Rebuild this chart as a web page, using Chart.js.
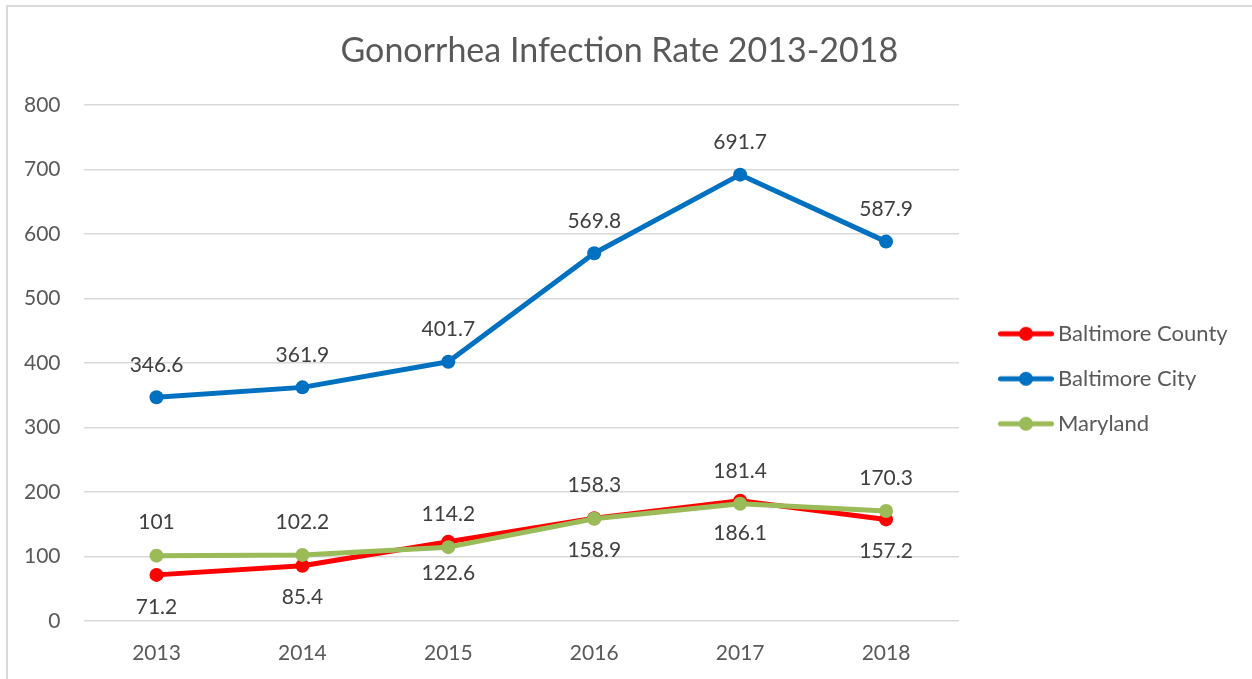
<!DOCTYPE html>
<html>
<head>
<meta charset="utf-8">
<script src="https://cdn.jsdelivr.net/npm/chart.js@4.4.1/dist/chart.umd.min.js"></script>
<style>
  html, body { margin: 0; padding: 0; background: #ffffff; }
  #wrap { position: relative; width: 1252px; height: 679px; overflow: hidden; }
  #frame { position: absolute; left: 6px; top: 5px; width: 1300px; height: 800px;
           border-left: 2px solid #d9d9d9; border-top: 2px solid #d9d9d9; pointer-events: none; }
  canvas { position: absolute; left: 0; top: 0; }
</style>
</head>
<body>
<div id="wrap">
  <canvas id="chart" width="1252" height="679"></canvas>
  <div id="frame"></div>
</div>
<script>
// Gonorrhea rates per 100,000, 2013-2018
const years = ['2013', '2014', '2015', '2016', '2017', '2018'];
const baltimoreCounty = [71.2, 85.4, 122.6, 158.9, 186.1, 157.2];
const baltimoreCity = [346.6, 361.9, 401.7, 569.8, 691.7, 587.9];
const maryland = [101, 102.2, 114.2, 158.3, 181.4, 170.3];
const yTickValues = [0, 100, 200, 300, 400, 500, 600, 700, 800];

const FONT = 'Lato, Carlito, Calibri, sans-serif';
const TEXT_GREY = '#595959';
const LABEL_GREY = '#404040';
const GRID_GREY = '#d9d9d9';

const LEGEND_FONT_SIZE = 22;
const LEGEND_PAD = 23;
const LEGEND_BOX_W = 65;

// Legend swatch: a short line with a round marker on it
function legendSwatch(color) {
  const c = document.createElement('canvas');
  c.width = 79; c.height = 18;
  const g = c.getContext('2d');
  g.strokeStyle = color;
  g.lineWidth = 5;
  g.lineCap = 'round';
  g.beginPath();
  g.moveTo(25.5, 9);
  g.lineTo(76.5, 9);
  g.stroke();
  g.fillStyle = color;
  g.beginPath();
  g.arc(51, 9, 7, 0, Math.PI * 2);
  g.fill();
  return c;
}

// Value labels drawn beside each point
const valueLabels = {
  id: 'valueLabels',
  afterDatasetsDraw(chart) {
    const ctx = chart.ctx;
    ctx.save();
    ctx.font = '21px ' + FONT;
    ctx.fillStyle = LABEL_GREY;
    ctx.textAlign = 'center';
    ctx.textBaseline = 'middle';
    chart.data.datasets.forEach((ds, i) => {
      const meta = chart.getDatasetMeta(i);
      meta.data.forEach((pt, j) => {
        ctx.fillText(String(ds.data[j]), pt.x, pt.y + ds.labelOffset);
      });
    });
    ctx.restore();
  }
};

// Reserve room on the right so the plot ends where the legend column begins
const measure = document.createElement('canvas').getContext('2d');
measure.font = LEGEND_FONT_SIZE + 'px ' + FONT;
const legendTextW = Math.max(...['Baltimore County', 'Baltimore City', 'Maryland'].map(t => measure.measureText(t).width));
const legendW = LEGEND_PAD + LEGEND_BOX_W + LEGEND_FONT_SIZE / 2 + legendTextW + 10;
const padRight = Math.max(0, 1252 - 959 - legendW);

const swatches = {};

new Chart(document.getElementById('chart'), {
  type: 'line',
  data: {
    labels: years,
    datasets: [
      { label: 'Baltimore County', data: baltimoreCounty, borderColor: '#ff0000', backgroundColor: '#ff0000',
        pointBackgroundColor: '#ff0000', order: 2, labelOffset: 32 },
      { label: 'Baltimore City', data: baltimoreCity, borderColor: '#0070c0', backgroundColor: '#0070c0',
        pointBackgroundColor: '#0070c0', order: 1, labelOffset: -32 },
      { label: 'Maryland', data: maryland, borderColor: '#9bbb59', backgroundColor: '#9bbb59',
        pointBackgroundColor: '#9bbb59', order: 0, labelOffset: -33 }
    ]
  },
  options: {
    responsive: false,
    animation: false,
    layout: { padding: { left: 1, right: padRight, top: 10, bottom: -7 } },
    elements: {
      line: { borderWidth: 5, tension: 0, borderCapStyle: 'round', borderJoinStyle: 'round' },
      point: { radius: 7, borderWidth: 0, hoverRadius: 7 }
    },
    scales: {
      x: {
        offset: true,
        grid: { display: false, drawTicks: false },
        border: { display: false },
        ticks: { color: TEXT_GREY, font: { family: FONT, size: 21 }, padding: 20 }
      },
      y: {
        min: 0,
        max: 800,
        afterBuildTicks(scale) { scale.ticks = yTickValues.map(v => ({ value: v })); },
        grid: { color: GRID_GREY, lineWidth: 1.5, drawTicks: false },
        border: { display: false },
        ticks: { color: TEXT_GREY, font: { family: FONT, size: 21 }, padding: 23 }
      }
    },
    plugins: {
      tooltip: { enabled: false },
      title: {
        display: true,
        text: 'Gonorrhea Infection Rate 2013-2018',
        color: TEXT_GREY,
        font: { family: FONT, size: 34, weight: 'normal' },
        padding: { top: 21, bottom: 33 }
      },
      legend: {
        position: 'right',
        fullSize: false,
        title: { display: true, text: '', font: { size: 10 }, padding: { top: 20, bottom: 0 } },
        labels: {
          usePointStyle: true,
          pointStyleWidth: LEGEND_BOX_W,
          padding: LEGEND_PAD,
          color: TEXT_GREY,
          font: { family: FONT, size: LEGEND_FONT_SIZE },
          generateLabels(chart) {
            const items = Chart.defaults.plugins.legend.labels.generateLabels(chart);
            items.sort((a, b) => a.datasetIndex - b.datasetIndex);
            items.forEach(it => {
              const col = chart.data.datasets[it.datasetIndex].borderColor;
              swatches[col] = swatches[col] || legendSwatch(col);
              it.pointStyle = swatches[col];
            });
            return items;
          }
        }
      }
    }
  },
  plugins: [valueLabels]
});
</script>
</body>
</html>
